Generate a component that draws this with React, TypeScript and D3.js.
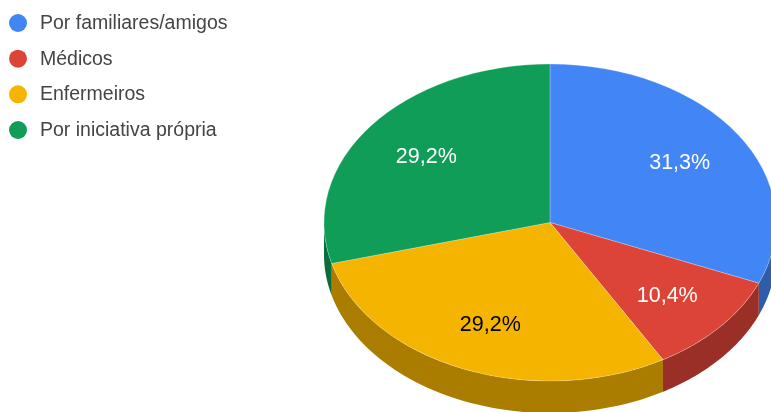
import React from "react";
import * as d3 from "d3";

const categories = ["Por familiares/amigos", "Médicos", "Enfermeiros", "Por iniciativa própria"];
const values = [15, 5, 14, 14];
const sliceLabels = ["31,3%", "10,4%", "29,2%", "29,2%"];
const topColors = ["#4285f4", "#db4437", "#f4b400", "#0f9d58"];
const sideColors = ["#2e5daa", "#992f26", "#aa7d00", "#0a6d3d"];
const labelColors = ["#ffffff", "#ffffff", "#000000", "#ffffff"];

const W = 771, H = 412;
const cx = 550, cy = 222.5, rx = 226, ry = 158.5, depth = 32;
const labelFactor = 0.69;

const pt = (a: number, dy = 0): [number, number] => [cx + rx * Math.sin(a), cy - ry * Math.cos(a) + dy];

export default function App() {
  const arcs = d3.pie<number>().sort(null)(values);
  const arcGen = d3.arc<d3.PieArcDatum<number>>().innerRadius(0).outerRadius(rx);
  const line = d3.line();
  const legendY = d3.scalePoint<string>().domain(categories).range([23, 130]);

  const walls = arcs.map((d) => {
    const a0 = Math.max(d.startAngle, Math.PI / 2);
    const a1 = Math.min(d.endAngle, (3 * Math.PI) / 2);
    if (a1 <= a0) return null;
    const n = 60;
    const as = d3.range(n + 1).map((i) => a0 + ((a1 - a0) * i) / n);
    const pts = [...as.map((a) => pt(a)), ...as.slice().reverse().map((a) => pt(a, depth))];
    return line(pts) + "Z";
  });

  return (
    <svg width={W} height={H} style={{ position: "absolute", left: 0, top: 0, background: "#fff" }}>
      <defs>
        <filter id="soft" x="-5%" y="-20%" width="110%" height="140%">
          <feGaussianBlur stdDeviation="0.35" />
        </filter>
      </defs>
      {categories.map((c, i) => (
        <g key={c}>
          <circle cx={18} cy={legendY(c)} r={9} fill={topColors[i]} />
          <text x={40} y={legendY(c)! + 6} fontFamily="'Liberation Sans', Arial, sans-serif" fontSize={19.5} fill="#444444" filter="url(#soft)">{c}</text>
        </g>
      ))}
      {walls.map((p, i) => p && <path key={i} d={p} fill={sideColors[i]} />)}
      <g transform={`translate(${cx},${cy}) scale(1,${ry / rx})`}>
        {arcs.map((d, i) => <path key={i} d={arcGen(d)!} fill={topColors[i]} stroke="#fff" strokeWidth={0.3} />)}
      </g>
      {arcs.map((d, i) => {
        const m = (d.startAngle + d.endAngle) / 2;
        const x = cx + rx * labelFactor * Math.sin(m);
        const y = cy - ry * labelFactor * Math.cos(m);
        return <text key={i} x={x} y={y + 7.5} textAnchor="middle" fontFamily="'Liberation Sans', Arial, sans-serif" fontSize={21.5} fill={labelColors[i]} filter="url(#soft)">{sliceLabels[i]}</text>;
      })}
    </svg>
  );
}
